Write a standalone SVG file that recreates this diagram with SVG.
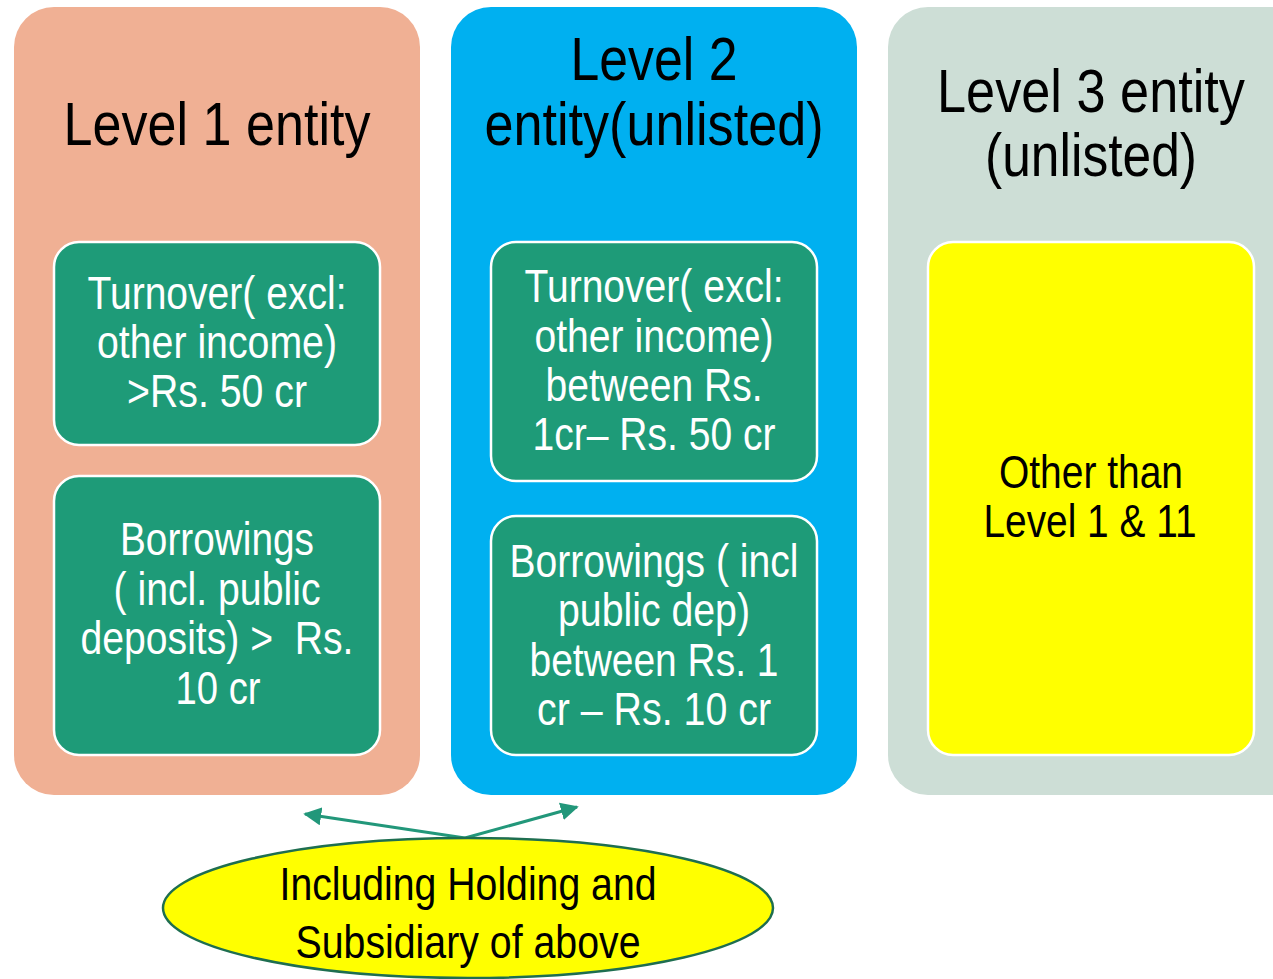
<svg xmlns="http://www.w3.org/2000/svg" width="1273" height="979" viewBox="0 0 1273 979">
<style>
text{font-family:"Liberation Sans",Arial,sans-serif;text-anchor:middle}
.t{font-size:62px;fill:#000}
.w{font-size:46px;fill:#fff}
.k{font-size:46px;fill:#000}
.inner{fill:#1E9B78;stroke:#fff;stroke-width:2.5}
.conn{stroke:#22977A;stroke-width:3;fill:none;marker-end:url(#ah)}
</style>
<defs>
<marker id="ah" viewBox="0 0 10 10" refX="9" refY="5" markerWidth="6" markerHeight="6" orient="auto" markerUnits="strokeWidth">
<path d="M0,0 L10,5 L0,10 z" fill="#22977A"/>
</marker>
</defs>
<rect width="1273" height="979" fill="#fff"/>
<g id="level1">
<rect x="14" y="7" width="406" height="788" rx="40" fill="#F0B094"/>
<text class="t" x="217" y="145" textLength="307" lengthAdjust="spacingAndGlyphs">Level 1 entity</text>
</g>
<g id="level2">
<rect x="451" y="7" width="406" height="788" rx="40" fill="#00B0F0"/>
<text class="t" x="654" y="80" textLength="167" lengthAdjust="spacingAndGlyphs">Level 2</text>
<text class="t" x="654" y="145" textLength="339" lengthAdjust="spacingAndGlyphs">entity(unlisted)</text>
</g>
<g id="level3">
<rect x="888" y="7" width="430" height="788" rx="40" fill="#CDDED6"/>
<text class="t" x="1091" y="112" textLength="308" lengthAdjust="spacingAndGlyphs">Level 3 entity</text>
<text class="t" x="1091" y="176" textLength="212" lengthAdjust="spacingAndGlyphs">(unlisted)</text>
</g>
<g id="l1-turnover">
<rect class="inner" x="54" y="242" width="326" height="203" rx="25"/>
<text class="w" x="217" y="309" textLength="259" lengthAdjust="spacingAndGlyphs">Turnover( excl:</text>
<text class="w" x="217" y="358" textLength="240" lengthAdjust="spacingAndGlyphs">other income)</text>
<text class="w" x="217" y="407" textLength="180" lengthAdjust="spacingAndGlyphs">&gt;Rs. 50 cr</text>
</g>
<g id="l1-borrowings">
<rect class="inner" x="54" y="476" width="326" height="279" rx="25"/>
<text class="w" x="217" y="555" textLength="194" lengthAdjust="spacingAndGlyphs">Borrowings</text>
<text class="w" x="217" y="605" textLength="207" lengthAdjust="spacingAndGlyphs">( incl. public</text>
<text class="w" x="217" y="654" textLength="273" lengthAdjust="spacingAndGlyphs" xml:space="preserve">deposits) &gt;  Rs.</text>
<text class="w" x="218" y="704" textLength="85" lengthAdjust="spacingAndGlyphs">10 cr</text>
</g>
<g id="l2-turnover">
<rect class="inner" x="491" y="242" width="326" height="239" rx="25"/>
<text class="w" x="654" y="302" textLength="259" lengthAdjust="spacingAndGlyphs">Turnover( excl:</text>
<text class="w" x="654" y="352" textLength="239" lengthAdjust="spacingAndGlyphs">other income)</text>
<text class="w" x="654" y="401" textLength="217" lengthAdjust="spacingAndGlyphs">between Rs.</text>
<text class="w" x="654" y="450" textLength="243" lengthAdjust="spacingAndGlyphs">1cr– Rs. 50 cr</text>
</g>
<g id="l2-borrowings">
<rect class="inner" x="491" y="516" width="326" height="239" rx="25"/>
<text class="w" x="654" y="577" textLength="289" lengthAdjust="spacingAndGlyphs">Borrowings ( incl</text>
<text class="w" x="654" y="626" textLength="192" lengthAdjust="spacingAndGlyphs">public dep)</text>
<text class="w" x="654" y="676" textLength="249" lengthAdjust="spacingAndGlyphs">between Rs. 1</text>
<text class="w" x="654" y="725" textLength="234" lengthAdjust="spacingAndGlyphs">cr – Rs. 10 cr</text>
</g>
<g id="l3-other">
<rect x="928" y="242" width="326" height="513" rx="25" fill="#FFFF00" stroke="#fff" stroke-width="2.5"/>
<text class="k" x="1091" y="488" textLength="184" lengthAdjust="spacingAndGlyphs">Other than</text>
<text class="k" x="1090" y="537" textLength="213" lengthAdjust="spacingAndGlyphs">Level 1 &amp; 11</text>
</g>
<g id="connectors">
<line class="conn" x1="465" y1="838" x2="305" y2="814"/>
<line class="conn" x1="465" y1="838" x2="577" y2="807"/>
</g>
<g id="holding">
<ellipse cx="468" cy="908" rx="305" ry="70" fill="#FFFF00" stroke="#1E6E50" stroke-width="2.5"/>
<text class="k" x="468" y="900" textLength="377" lengthAdjust="spacingAndGlyphs">Including Holding and</text>
<text class="k" x="468" y="958" textLength="345" lengthAdjust="spacingAndGlyphs">Subsidiary of above</text>
</g>
</svg>
